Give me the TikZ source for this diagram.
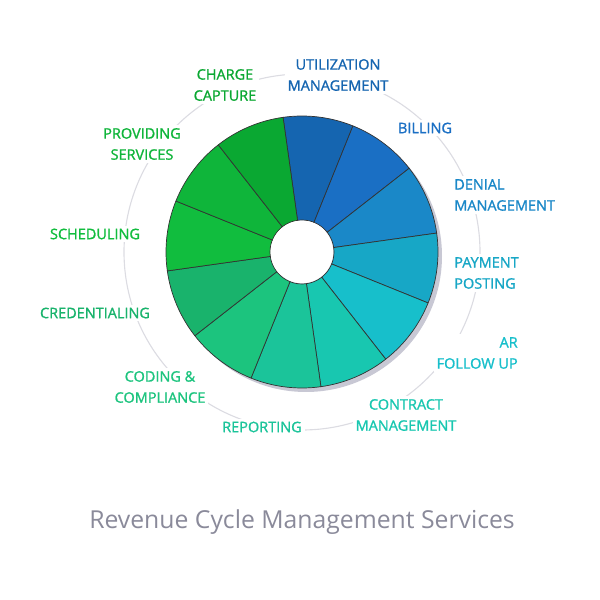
\documentclass[tikz,border=0pt]{standalone}
\usepackage{fontspec}
\setmainfont{Open Sans}
\usetikzlibrary{calc}
\definecolor{segA}{HTML}{1565B0}
\definecolor{segB}{HTML}{1A6FC4}
\definecolor{segC}{HTML}{1A88C8}
\definecolor{segD}{HTML}{17A7C6}
\definecolor{segE}{HTML}{17BFCB}
\definecolor{segF}{HTML}{18C7B0}
\definecolor{segG}{HTML}{1BC49A}
\definecolor{segH}{HTML}{1CC47E}
\definecolor{segI}{HTML}{19B36C}
\definecolor{segJ}{HTML}{11BD3E}
\definecolor{segK}{HTML}{0FB53A}
\definecolor{segL}{HTML}{0AA832}
\definecolor{ringgray}{HTML}{DCDCE2}
\definecolor{shadowgray}{HTML}{C8C8D4}
\definecolor{titlegray}{HTML}{8A8A9A}
\newfontfamily\lblfont[FakeBold=1.2]{Open Sans}
\tikzset{
  lbl/.style={fill=white,inner sep=2pt,align=center,font=\lblfont\fontsize{10.3}{15}\selectfont,text=#1},
  seg/.style={draw=black!80,line width=0.5pt}
}
\begin{document}
\begin{tikzpicture}
            \useasboundingbox (0,0) rectangle (15,15);
            \coordinate (hub) at (7.55,8.7);
            \draw[ringgray,line width=0.8pt] (hub) circle (4.45);
            % shadow
            \fill[shadowgray,even odd rule] ($(hub)+(0.1,-0.1)$) circle (3.4) ($(hub)+(-0.1,0.1)$) circle (0.8);
            \foreach \c [count=\i] in {segA,segB,segC,segD,segE,segF,segG,segH,segI,segJ,segK,segL}{
                \pgfmathsetmacro{\a}{98-30*(\i-1)}
                \pgfmathsetmacro{\b}{\a-30}
                \filldraw[seg,fill=\c] ($(hub)+(\a:0.8)$) -- ($(hub)+(\a:3.4)$) arc[start angle=\a,end angle=\b,radius=3.4] -- ($(hub)+(\b:0.8)$) arc[start angle=\b,end angle=\a,radius=0.8] -- cycle;
            }
            \fill[white] (hub) circle (0.78);

            \node[lbl=segA] (util) at (8.45,13.125) {UTILIZATION\\MANAGEMENT};
            \node[lbl=segB] (bill) at (10.625,11.8) {BILLING};
            \node[lbl=segC,anchor=west,align=left] (denial) at (11.28,10.125) {DENIAL\\MANAGEMENT};
            \node[lbl=segD,anchor=west,align=left] (pay) at (11.28,8.175) {PAYMENT\\POSTING};
            \node[lbl=segE,anchor=east,align=right] (ar) at (13.02,6.175) {AR\\FOLLOW UP};
            \node[lbl=segF] (contract) at (10.15,4.625) {CONTRACT\\MANAGEMENT};
            \node[lbl=segG] (report) at (6.55,4.325) {REPORTING};
            \node[lbl=segH] (coding) at (4.0,5.325) {CODING \&\\COMPLIANCE};
            \node[lbl=segI] (cred) at (2.375,7.175) {CREDENTIALING};
            \node[lbl=segJ] (sched) at (2.375,9.15) {SCHEDULING};
            \node[lbl=segK] (prov) at (3.55,11.4) {PROVIDING\\SERVICES};
            \node[lbl=segL] (charge) at (5.625,12.875) {CHARGE\\CAPTURE};

            \node[text=titlegray,font=\fontsize{17.6}{20}\selectfont] (title) at (7.55,1.95) {Revenue Cycle Management Services};
        \end{tikzpicture}
\end{document}
